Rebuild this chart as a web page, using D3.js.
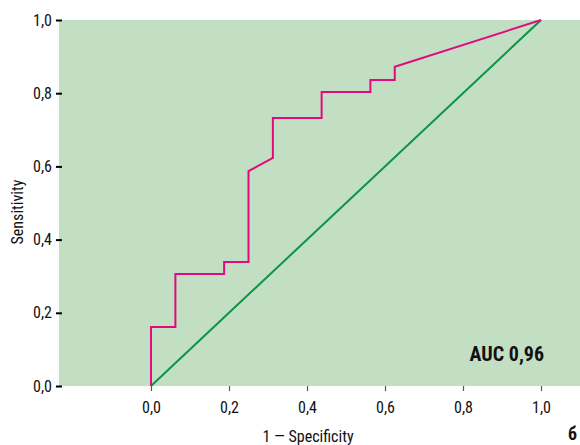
<!DOCTYPE html>
<html>
<head>
<meta charset="utf-8">
<script src="https://cdn.jsdelivr.net/npm/d3@7"></script>
<style>
  body { margin: 0; background: #fff; }
  svg text { font-family: "Liberation Sans Narrow", "Roboto Condensed", "Arial Narrow", "Liberation Sans", sans-serif; }
</style>
</head>
<body>
<script>
const w = 580;
const h = 445;

// ROC curve
const fpr = [0, 0, 0.0625, 0.0625, 0.1875, 0.1875, 0.25, 0.25, 0.3125, 0.3125, 0.4375, 0.4375, 0.5625, 0.5625, 0.625, 0.625, 1];
const tpr = [0, 0.161, 0.161, 0.306, 0.306, 0.339, 0.339, 0.587, 0.623, 0.732, 0.732, 0.803, 0.803, 0.836, 0.836, 0.872, 1];
const diagonal = [0, 1];
const ticks = [0, 0.2, 0.4, 0.6, 0.8, 1.0];
const aucLabel = "AUC 0,96";

const fmt = d => d3.format(".1f")(d).replace(".", ",");

const xScale = d3.scaleLinear().domain([0, 1]).range([151, 541]);
const yScale = d3.scaleLinear().domain([0, 1]).range([386, 20]);

const svg = d3.select("body")
              .append("svg")
              .attr("width", w)
              .attr("height", h);

// background
svg.append("rect")
   .attr("x", xScale(-0.236))
   .attr("y", yScale(1))
   .attr("width", w - xScale(-0.236))
   .attr("height", yScale(0) - yScale(1))
   .attr("fill", "#c2dfc4");

// y axis
const yAxis = svg.append("g")
   .attr("transform", `translate(${xScale(-0.236)}, 0)`)
   .call(d3.axisLeft(yScale).tickValues(ticks).tickFormat(fmt).tickSize(3).tickPadding(4));
yAxis.select(".domain").remove();
yAxis.selectAll(".tick line").attr("stroke", "#000").attr("stroke-width", 2).attr("x2", -3).attr("x1", 3);
yAxis.selectAll(".tick text").attr("font-size", "16px").attr("fill", "#111");

// x axis
const xAxis = svg.append("g")
   .attr("transform", `translate(0, ${yScale(0)})`)
   .call(d3.axisBottom(xScale).tickValues(ticks).tickFormat(fmt).tickSize(5).tickPadding(11));
xAxis.select(".domain").remove();
xAxis.selectAll(".tick line").attr("stroke", "#555").attr("stroke-width", 1.2);
xAxis.selectAll(".tick text").attr("font-size", "16px").attr("fill", "#111");

// diagonal
svg.append("line")
   .attr("x1", xScale(diagonal[0]))
   .attr("y1", yScale(diagonal[0]))
   .attr("x2", xScale(diagonal[1]))
   .attr("y2", yScale(diagonal[1]))
   .attr("stroke", "#0a9443")
   .attr("stroke-width", 2);

// roc curve
const line = d3.line()
   .x(d => xScale(d[0]))
   .y(d => yScale(d[1]));

svg.append("path")
   .datum(fpr.map((d, i) => [d, tpr[i]]))
   .attr("d", line)
   .attr("fill", "none")
   .attr("stroke", "#e4097f")
   .attr("stroke-width", 2);

// labels
svg.append("text")
   .text(aucLabel)
   .attr("x", 544)
   .attr("y", 361)
   .attr("text-anchor", "end")
   .attr("font-size", "20px")
   .attr("font-weight", "bold")
   .attr("fill", "#111");

svg.append("text")
   .text("1 — Specificity")
   .attr("x", 308)
   .attr("y", 442)
   .attr("text-anchor", "middle")
   .attr("font-size", "16px")
   .attr("fill", "#111");

svg.append("text")
   .text("Sensitivity")
   .attr("transform", "translate(23, 212) rotate(-90)")
   .attr("text-anchor", "middle")
   .attr("font-size", "16px")
   .attr("fill", "#111");

svg.append("text")
   .text("б")
   .attr("x", 577)
   .attr("y", 440)
   .attr("text-anchor", "end")
   .attr("font-size", "18px")
   .attr("font-weight", "bold")
   .attr("fill", "#111");
</script>
</body>
</html>
